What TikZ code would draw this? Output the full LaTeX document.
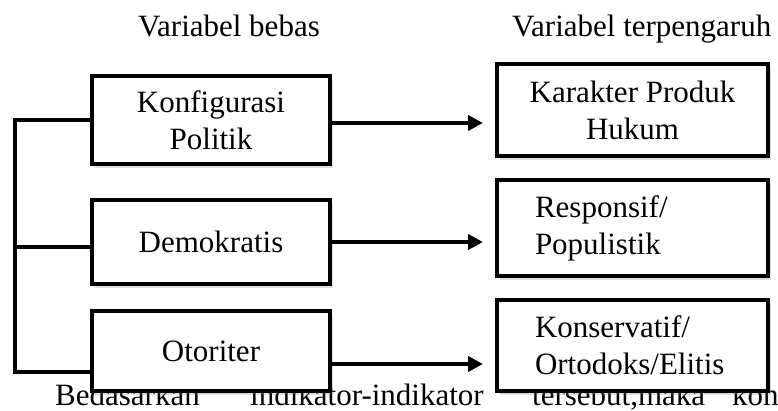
\documentclass[tikz,border=0pt]{standalone}
\usepackage{fontspec}
\setmainfont{Liberation Serif}
\usetikzlibrary{arrows.meta,positioning,shadows}
\tikzset{
  vbox/.style={draw=black, line width=4pt, fill=white, align=center, font=\fontsize{31}{37}\selectfont, inner sep=0pt, minimum width=238pt, drop shadow={shadow xshift=3pt, shadow yshift=-4pt, opacity=0.25}},
  hbox/.style={vbox, minimum width=271pt},
  hboxl/.style={hbox, align=left, text width=195pt},
  farr/.style={-{Triangle[length=15pt,width=15pt]}, line width=4pt, shorten >=12pt},
  fline/.style={line width=4pt},
  vlabel/.style={font=\fontsize{31}{37}\selectfont, anchor=base west, inner sep=0pt}
}
\begin{document}
\begin{tikzpicture}[x=1pt,y=-1pt]
\useasboundingbox (0,0) rectangle (778,411);
% headings
\node[vlabel] (hb) at (138,37) {Variabel bebas};
\node[vlabel] (ht) at (512,37) {Variabel terpengaruh};
% running text behind the boxes
\node[vlabel] (t1) at (55,405) {Bedasarkan};
\node[vlabel] (t2) at (250,405) {indikator-indikator};
\node[vlabel] (t3) at (532,405) {tersebut,maka};
\node[vlabel] (t4) at (732,405) {kon};
% left column
\node[vbox, minimum height=88pt] (k1) at (211,120) {Konfigurasi\\Politik};
\node[vbox, minimum height=84pt, below=32pt of k1] (d1) {Demokratis};
\node[vbox, minimum height=80pt, below=23pt of d1] (o1) {Otoriter};
% right column
\node[hbox, minimum height=92pt, right=163pt of k1, yshift=10pt] (r1) {Karakter Produk\\Hukum};
\node[hboxl, minimum height=96pt, below=20pt of r1] (r2) {Responsif/\\Populistik};
\node[hboxl, minimum height=91pt, below=20pt of r2] (r3) {Konservatif/\\Ortodoks/Elitis};
% bracket
\coordinate (brk) at (15,372);
\draw[fline] (k1.west) -| (brk) -- ([yshift=-21pt]o1.west);
\draw[fline] ([yshift=-5pt]d1.west) -- ([yshift=-5pt]d1.west -| brk);
% arrows
\draw[farr] ([yshift=-3pt]k1.east) -- ([yshift=-3pt]k1.east -| r1.west);
\draw[farr] (d1.east) -- (d1.east -| r2.west);
\draw[farr] ([yshift=-13pt]o1.east) -- ([yshift=-13pt]o1.east -| r3.west);
\end{tikzpicture}
\end{document}
